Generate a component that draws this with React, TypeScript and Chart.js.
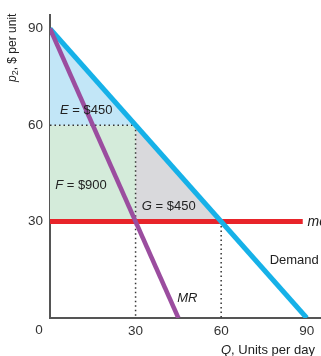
import React, { useEffect, useRef } from "react";
import { Chart, registerables } from "chart.js";

Chart.register(...registerables);

// Quantities (Q) and prices (p2)
const demandQ = [0, 90];
const demandP = [90, 0];
const mrQ = [0, 45];
const mrP = [90, 0];
const mcQ = [0, 88.6];
const mcP = [30, 30];

// Shaded areas (polygons in data units)
const areaEQ = [0, 30, 0, 0];
const areaEP = [90, 60, 60, 90];
const areaFQ = [0, 30, 30, 0, 0];
const areaFP = [60, 60, 30, 30, 60];
const areaGQ = [30, 60, 30, 30];
const areaGP = [60, 30, 30, 60];

// Dotted guide lines
const guide1Q = [0, 30];
const guide1P = [60, 60];
const guide2Q = [30, 30];
const guide2P = [60, 0];
const guide3Q = [60, 60];
const guide3P = [30, 0];

const xTicks = [0, 30, 60, 90];
const yTicks = [30, 60, 90];

// Labels: [italic part, normal part]
const labelTexts = [
  ["E", " = $450"],
  ["F", " = $900"],
  ["G", " = $450"],
  ["", "Demand"],
  ["MR", ""],
  ["mc", ""],
];
const labelQ = [3.5, 1.8, 32.2, 77, 44.6, 90.3];
const labelP = [64.5, 41.3, 34.7, 17.9, 6.1, 29.8];

const pts = (q: number[], p: number[]) => q.map((v, i) => ({ x: v, y: p[i] }));

const FONT = "'Liberation Sans', Arial, Helvetica, sans-serif";

function drawMixed(ctx: CanvasRenderingContext2D, x: number, y: number, it: string, norm: string, size: number) {
  ctx.textBaseline = "middle";
  ctx.textAlign = "left";
  let cx = x;
  if (it) {
    ctx.font = `italic ${size}px ${FONT}`;
    ctx.fillText(it, cx, y);
    cx += ctx.measureText(it).width;
  }
  if (norm) {
    ctx.font = `${size}px ${FONT}`;
    ctx.fillText(norm, cx, y);
  }
}

const textPlugin = {
  id: "texts",
  afterDraw(chart: any) {
    const ctx = chart.ctx as CanvasRenderingContext2D;
    const xs = chart.scales.x;
    const ys = chart.scales.y;
    ctx.save();
    ctx.fillStyle = "#222";
    labelTexts.forEach((t, i) => {
      drawMixed(ctx, xs.getPixelForValue(labelQ[i]), ys.getPixelForValue(labelP[i]), t[0], t[1], i === 5 ? 14 : 13);
    });
    // corner zero
    ctx.font = `13.5px ${FONT}`;
    ctx.fillStyle = "#333";
    ctx.textAlign = "center";
    ctx.textBaseline = "middle";
    ctx.fillText("0", xs.getPixelForValue(0) - 11, 330);
    // x title
    ctx.fillStyle = "#222";
    drawMixed(ctx, 221, 350, "Q", ", Units per day", 13);
    // y title rotated
    ctx.save();
    ctx.translate(13, 82);
    ctx.rotate(-Math.PI / 2);
    ctx.textBaseline = "middle";
    ctx.textAlign = "left";
    ctx.font = `italic 12px ${FONT}`;
    ctx.fillText("p", 0, 0);
    let w = ctx.measureText("p").width;
    ctx.font = `9px ${FONT}`;
    ctx.fillText("2", w, 3);
    w += ctx.measureText("2").width;
    ctx.font = `12px ${FONT}`;
    ctx.fillText(", $ per unit", w, 0);
    ctx.restore();
    ctx.restore();
  },
};

export default function App() {
  const ref = useRef<HTMLCanvasElement>(null);
  useEffect(() => {
    document.body.style.margin = "0";
    const dotted = { borderColor: "#333", borderWidth: 1.5, borderDash: [1.5, 3], pointRadius: 0, showLine: true, fill: false };
    const area = (color: string) => ({ backgroundColor: color, borderWidth: 0, borderColor: "transparent", pointRadius: 0, showLine: true, fill: "shape" as any });
    const chart = new Chart(ref.current!, {
      type: "scatter",
      data: {
        datasets: [
          { data: pts(mrQ, mrP), borderColor: "#9b4d9f", borderWidth: 4.5, pointRadius: 0, showLine: true, order: 0 },
          { data: pts(demandQ, demandP), borderColor: "#16b1e8", borderWidth: 5, pointRadius: 0, showLine: true, order: 1 },
          { data: pts(mcQ, mcP), borderColor: "#e8242a", borderWidth: 5, pointRadius: 0, showLine: true, order: 2 },
          { data: pts(guide1Q, guide1P), ...dotted, order: 3 },
          { data: pts(guide2Q, guide2P), ...dotted, order: 3 },
          { data: pts(guide3Q, guide3P), ...dotted, order: 3 },
          { data: pts(areaEQ, areaEP), ...area("#c2e6f7"), order: 5 },
          { data: pts(areaFQ, areaFP), ...area("#d4ebda"), order: 5 },
          { data: pts(areaGQ, areaGP), ...area("#d9d9dc"), order: 5 },
        ] as any,
      },
      options: {
        responsive: false,
        animation: false,
        layout: { padding: { top: 8, right: 0, left: 0, bottom: 0 } },
        plugins: { legend: { display: false }, tooltip: { enabled: false } },
        elements: { line: { tension: 0 } },
        scales: {
          x: {
            type: "linear",
            min: 0,
            max: 95,
            afterFit: (s: any) => { s.height = 38; },
            afterBuildTicks: (s: any) => { s.ticks = xTicks.map((v) => ({ value: v })); },
            grid: { display: false, drawTicks: false },
            border: { display: true, color: "#555", width: 2 },
            ticks: {
              padding: 5,
              maxRotation: 0,
              autoSkip: false,
              color: "#333",
              font: { size: 13.5, family: FONT },
              callback: (v: any) => (v === 0 ? "" : String(v)),
            },
          },
          y: {
            type: "linear",
            min: 0,
            max: 94.25,
            afterFit: (s: any) => { s.width = 50; },
            afterBuildTicks: (s: any) => { s.ticks = yTicks.map((v) => ({ value: v })); },
            grid: { display: false, drawTicks: false },
            border: { display: true, color: "#555", width: 2 },
            ticks: {
              padding: 7,
              autoSkip: false,
              color: "#333",
              font: { size: 13.5, family: FONT },
              callback: (v: any) => String(v),
            },
          },
        },
      } as any,
      plugins: [textPlugin],
    });
    return () => chart.destroy();
  }, []);
  return (
    <div style={{ width: 321, height: 356 }}>
      <canvas ref={ref} width={321} height={356} style={{ display: "block" }} />
    </div>
  );
}
